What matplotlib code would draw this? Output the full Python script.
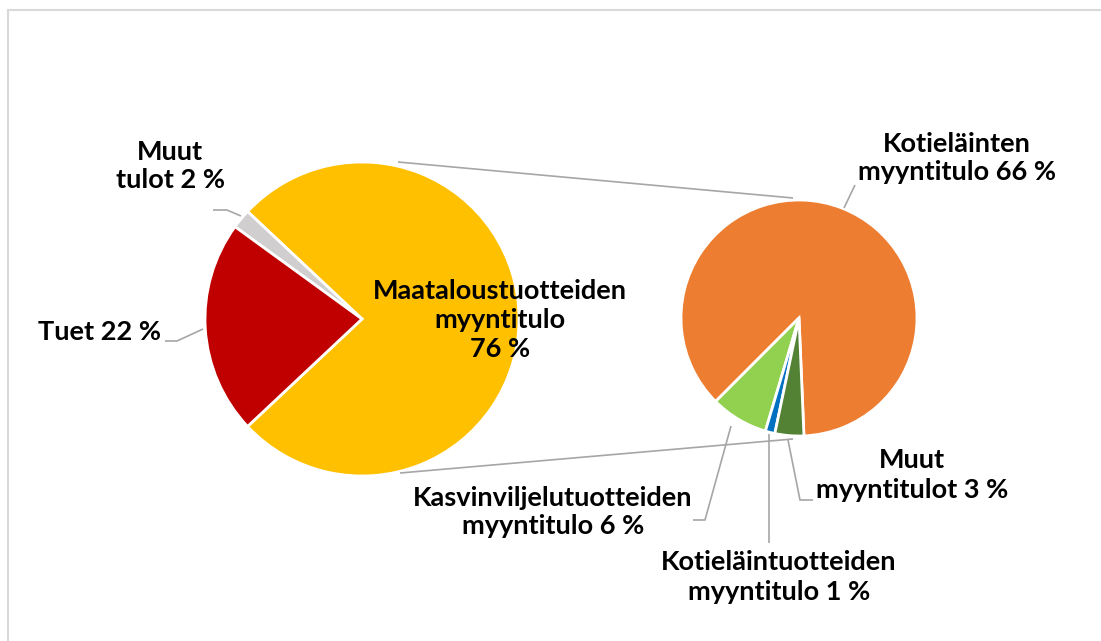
import numpy as np
import matplotlib.pyplot as plt
from matplotlib.patches import Rectangle

# data
main_names = ['Maataloustuotteiden myyntitulo', 'Muut tulot', 'Tuet']
main_values = [76, 2, 22]
main_colors = ['#FFC000', '#D0CECE', '#C00000']

sub_names = ['Kotieläinten myyntitulo', 'Kasvinviljelutuotteiden myyntitulo',
             'Kotieläintuotteiden myyntitulo', 'Muut myyntitulot']
sub_values = [66, 6, 1, 3]
sub_colors = ['#ED7D31', '#92D050', '#0070C0', '#548235']

W, H = 1101, 641

def P(x, y):
    return x, H - y

fig = plt.figure(figsize=(W / 100, H / 100), dpi=100)
ax = fig.add_axes([0, 0, 1, 1])

# chart frame (only top/left visible)
ax.add_patch(Rectangle(P(8, 700), 1200, 690, fill=False, ec='#D9D9D9', lw=1.5))

wp = dict(edgecolor='white', linewidth=2)

# main pie
c1 = P(362, 319)
r1 = 157
start1 = -main_values[0] / sum(main_values) * 360 / 2
ax.pie(main_values, colors=main_colors, startangle=start1, counterclock=True,
       center=c1, radius=r1, wedgeprops=wp, frame=True)

# secondary pie
c2 = P(799, 318)
r2 = 118
ax.pie(sub_values, colors=sub_colors, startangle=-87.6, counterclock=True,
       center=c2, radius=r2, wedgeprops=wp, frame=True)

ax.set_xlim(0, W)
ax.set_ylim(0, H)
ax.set_aspect('equal')
ax.axis('off')

gray = '#A6A6A6'

def line(pts):
    xs = [p[0] for p in pts]
    ys = [H - p[1] for p in pts]
    ax.plot(xs, ys, color=gray, lw=1.2, solid_capstyle='butt')

# connectors between pies
line([(398, 162), (793, 198)])
line([(400, 473), (793, 439)])

# leader lines
line([(213, 210), (227, 210), (241, 216)])
line([(165, 341), (177, 341), (203, 329)])
line([(844, 208), (855, 185)])
line([(731, 426), (705, 520), (693, 520)])
line([(769, 434), (769, 543)])
line([(788, 440), (800, 500), (813, 500)])

font = dict(family=['Lato', 'DejaVu Sans'], fontweight='bold', fontsize=19.5,
            color='black', ha='center', va='center', linespacing=1.25)

def pct(v):
    return f'{v} %'

ax.text(*P(500, 320), 'Maataloustuotteiden\nmyyntitulo\n' + pct(main_values[0]), **font)
ax.text(*P(170, 166), 'Muut\ntulot ' + pct(main_values[1]), **font)
ax.text(*P(100, 332), 'Tuet ' + pct(main_values[2]), **font)

ax.text(*P(957, 158), 'Kotieläinten\nmyyntitulo ' + pct(sub_values[0]), **font)
ax.text(*P(553, 512), 'Kasvinviljelutuotteiden\nmyyntitulo ' + pct(sub_values[1]), **font)
ax.text(*P(779, 577), 'Kotieläintuotteiden\nmyyntitulo ' + pct(sub_values[2]), **font)
ax.text(*P(912, 475), 'Muut\nmyyntitulot ' + pct(sub_values[3]), **font)

fig.savefig('out.png', dpi=100)
